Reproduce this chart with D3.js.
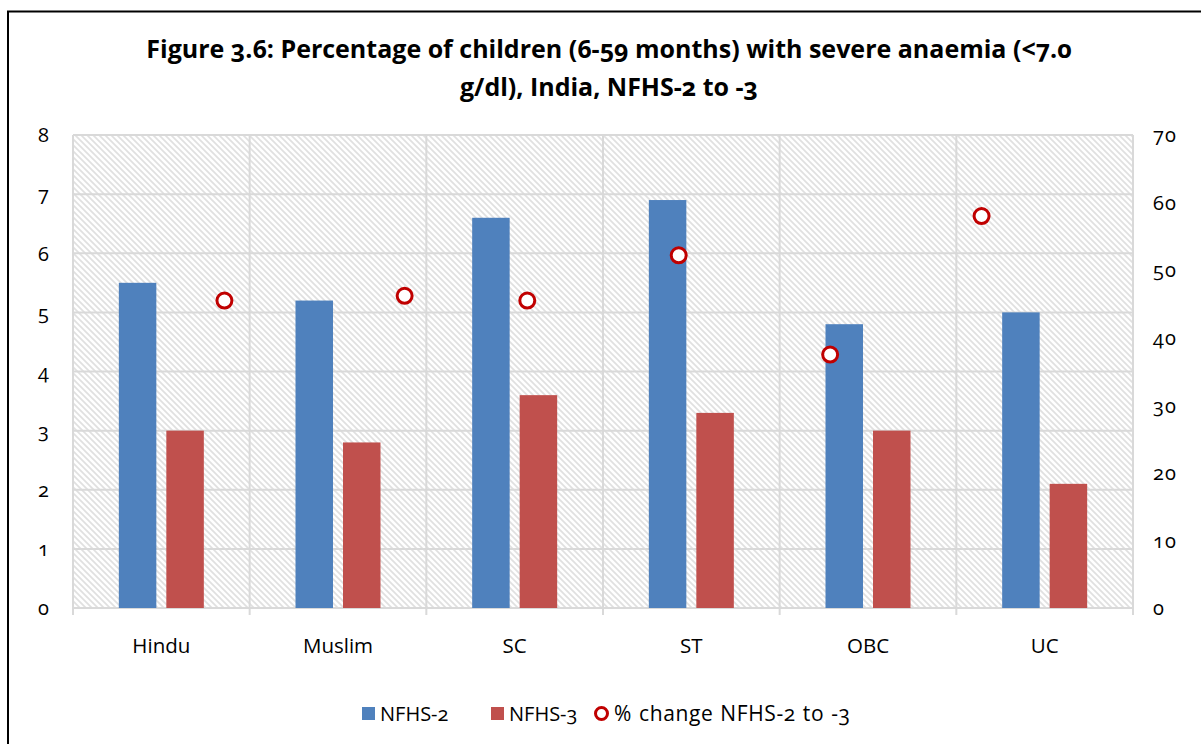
<!DOCTYPE html>
<html>
<head>
<meta charset="utf-8">
<script src="https://cdn.jsdelivr.net/npm/d3@7"></script>
<style>
  html, body { margin: 0; padding: 0; background: #fff; }
  svg { display: block; font-family: "Open Sans", "Noto Sans", sans-serif; font-variant-numeric: oldstyle-nums; }
</style>
</head>
<body>
<svg id="chart" width="1201" height="744"></svg>
<script>
const categories = ["Hindu", "Muslim", "SC", "ST", "OBC", "UC"];
const nfhs2 = [5.5, 5.2, 6.6, 6.9, 4.8, 5.0];
const nfhs3 = [3.0, 2.8, 3.6, 3.3, 3.0, 2.1];
const pctChange = [45.5, 46.2, 45.5, 52.2, 37.5, 58.0];
const pctChangeX = [1, 2.19, 3, 4, 5, 6];
const leftTicks = [0, 1, 2, 3, 4, 5, 6, 7, 8];
const rightTicks = [0, 10, 20, 30, 40, 50, 60, 70];
const seriesNames = ["NFHS-2", "NFHS-3", "% change NFHS-2 to -3"];
const titleLines = ["Figure 3.6: Percentage of children (6-59 months) with severe anaemia (<7.0", "g/dl), India, NFHS-2 to -3"];

const svg = d3.select("#chart");
const W = 1201, H = 744;
const plot = { left: 73, right: 1133, top: 135, bottom: 608 };
const colors = { n2: "#4F81BD", n3: "#C0504D", pct: "#C00000", grid: "#D9D9D9" };

// outer frame
svg.append("rect").attr("x", 8).attr("y", 11.5).attr("width", W + 20).attr("height", H + 20)
  .attr("fill", "#fff").attr("stroke", "#000").attr("stroke-width", 2);

// pattern
const defs = svg.append("defs");
const pat = defs.append("pattern").attr("id", "hatch").attr("patternUnits", "userSpaceOnUse")
  .attr("width", 6).attr("height", 6);
pat.append("rect").attr("width", 6).attr("height", 6).attr("fill", "#fff");
pat.append("path").attr("d", "M-1,-1 L7,7 M-4,2 L4,10 M2,-4 L10,4")
  .attr("stroke", "#E0E0E0").attr("stroke-width", 1.7);

const x = d3.scaleBand().domain(categories).range([plot.left, plot.right]).padding(0);
const xInner = d3.scaleBand().domain(["n2", "n3"]).range([-42.5, 42.5]).paddingInner(10 / 47.5);
const xScatter = d3.scaleLinear().domain([0, 7]).range([plot.left, plot.right]);
const yL = d3.scaleLinear().domain([0, 8]).range([plot.bottom, plot.top]);
const yR = d3.scaleLinear().domain([0, 70]).range([plot.bottom, plot.top]);

svg.append("rect").attr("x", plot.left).attr("y", plot.top)
  .attr("width", plot.right - plot.left).attr("height", plot.bottom - plot.top)
  .attr("fill", "url(#hatch)");

// horizontal gridlines
svg.append("g").selectAll("line").data(leftTicks).join("line")
  .attr("x1", plot.left).attr("x2", plot.right)
  .attr("y1", d => yL(d)).attr("y2", d => yL(d))
  .attr("stroke", colors.grid).attr("stroke-width", 2);

// vertical gridlines at category boundaries (+ tick marks below)
const bounds = categories.map(c => x(c)).concat([plot.right]);
svg.append("g").selectAll("line").data(bounds).join("line")
  .attr("x1", d => d).attr("x2", d => d)
  .attr("y1", plot.top).attr("y2", plot.bottom + 7)
  .attr("stroke", colors.grid).attr("stroke-width", 2);

// bars
const gBars = svg.append("g");
categories.forEach((c, i) => {
  const cx = x(c) + x.bandwidth() / 2;
  gBars.append("rect").attr("x", cx + xInner("n2")).attr("width", xInner.bandwidth())
    .attr("y", yL(nfhs2[i])).attr("height", yL(0) - yL(nfhs2[i])).attr("fill", colors.n2);
  gBars.append("rect").attr("x", cx + xInner("n3")).attr("width", xInner.bandwidth())
    .attr("y", yL(nfhs3[i])).attr("height", yL(0) - yL(nfhs3[i])).attr("fill", colors.n3);
});

// markers
svg.append("g").selectAll("circle").data(pctChange).join("circle")
  .attr("cx", (d, i) => xScatter(pctChangeX[i]))
  .attr("cy", d => yR(d))
  .attr("r", 7.5).attr("fill", "#fff").attr("stroke", colors.pct).attr("stroke-width", 3);

const tickFont = 20;
// left axis
const leftAxis = d3.axisLeft(yL).tickValues(leftTicks).tickSize(0).tickPadding(0);
const gL = svg.append("g").attr("transform", `translate(49,0)`).call(leftAxis);
gL.select(".domain").remove();
gL.selectAll("text").attr("font-size", tickFont).attr("fill", "#000")
  .attr("font-family", "Open Sans, sans-serif").attr("dy", "0.34em");

// right axis
const rightAxis = d3.axisRight(yR).tickValues(rightTicks).tickSize(0).tickPadding(0);
const gR = svg.append("g").attr("transform", `translate(1153,0)`).call(rightAxis);
gR.select(".domain").remove();
gR.selectAll("text").attr("font-size", tickFont).attr("fill", "#000")
  .attr("font-family", "Open Sans, sans-serif").attr("letter-spacing", 1).attr("dy", "0.34em");

// bottom axis labels
const bottomAxis = d3.axisBottom(x).tickSize(0).tickPadding(0);
const gB = svg.append("g").attr("transform", `translate(0,638)`).call(bottomAxis);
gB.select(".domain").remove();
gB.selectAll("text").attr("font-size", 20.5).attr("fill", "#000").attr("font-family", "Open Sans, sans-serif");

// title
svg.append("g").selectAll("text").data(titleLines).join("text")
  .attr("x", 609).attr("y", (d, i) => 58 + i * 38)
  .attr("text-anchor", "middle").attr("font-weight", "bold").attr("font-size", 25)
  .attr("fill", "#000").text(d => d);

// legend
const lg = svg.append("g");
const legendItems = [
  { name: seriesNames[0], type: "rect", color: colors.n2, x: 362, tx: 380, fs: 20, ls: 0, ws: 0 },
  { name: seriesNames[1], type: "rect", color: colors.n3, x: 491, tx: 509, fs: 20, ls: 0, ws: 0 },
  { name: seriesNames[2], type: "circle", color: colors.pct, x: 595, tx: 614, fs: 21, ls: 0.6, ws: 1 }
];
legendItems.forEach(it => {
  if (it.type === "rect") {
    lg.append("rect").attr("x", it.x).attr("y", 707).attr("width", 13).attr("height", 13).attr("fill", it.color);
  } else {
    lg.append("circle").attr("cx", it.x + 6.5).attr("cy", 713.5).attr("r", 6)
      .attr("fill", "#fff").attr("stroke", it.color).attr("stroke-width", 3);
  }
  lg.append("text").attr("x", it.tx).attr("y", 721).attr("font-size", it.fs).attr("fill", "#000")
    .attr("letter-spacing", it.ls).attr("word-spacing", it.ws).text(it.name);
});
</script>
</body>
</html>
